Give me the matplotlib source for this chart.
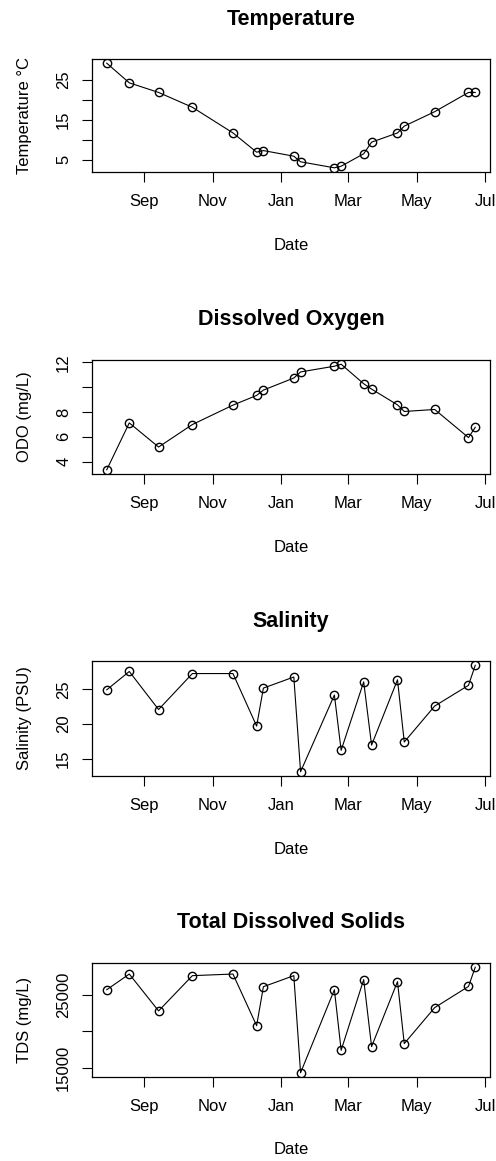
import matplotlib
matplotlib.use("Agg")
import matplotlib.pyplot as plt
import matplotlib.dates as mdates
import numpy as np
import pandas as pd

plt.rcParams['font.family'] = ['Liberation Sans', 'DejaVu Sans']

# sampling dates
dates = ["2018-07-30", "2018-08-19", "2018-09-14", "2018-10-14", "2018-11-19",
         "2018-12-10", "2018-12-16", "2019-01-12", "2019-01-18", "2019-02-17",
         "2019-02-23", "2019-03-15", "2019-03-22", "2019-04-14", "2019-04-20",
         "2019-05-17", "2019-06-16", "2019-06-22"]

temperature = [29.1, 24.2, 21.8, 18.1, 11.7, 6.9, 7.3, 5.9, 4.5, 3.0,
               3.4, 6.5, 9.4, 11.7, 13.4, 17.0, 21.8, 21.8]
odo = [3.35, 7.12, 5.18, 6.99, 8.55, 9.33, 9.76, 10.73, 11.22, 11.68,
       11.84, 10.27, 9.84, 8.57, 8.04, 8.2, 5.94, 6.77]
salinity = [24.95, 27.6, 22.1, 27.3, 27.3, 19.7, 25.2, 26.8, 13.1, 24.2,
            16.2, 26.1, 16.95, 26.4, 17.4, 22.6, 25.6, 28.5]
tds = [25690, 27830, 22800, 27610, 27830, 20780, 26100, 27610, 14360, 25690,
       17430, 27070, 17930, 26790, 18340, 23250, 26140, 28760]

month_ticks = ["2018-09-01", "2018-11-01", "2019-01-01", "2019-03-01",
               "2019-05-01", "2019-07-01"]
month_labels = ["Sep", "Nov", "Jan", "Mar", "May", "Jul"]

panels = [
    ("Temperature", "Temperature °C", temperature, [5, 10, 15, 20, 25], ["5", "", "15", "", "25"]),
    ("Dissolved Oxygen", "ODO (mg/L)", odo, [4, 6, 8, 10, 12], ["4", "6", "8", "", "12"]),
    ("Salinity", "Salinity (PSU)", salinity, [15, 20, 25], ["15", "20", "25"]),
    ("Total Dissolved Solids", "TDS (mg/L)", tds, [15000, 20000, 25000], ["15000", "", "25000"]),
]

# axes box positions in pixels (top, bottom)
W, H = 496, 1161
boxes = [(59, 172), (360, 474), (661, 776), (963, 1077)]
left_px, right_px = 92, 490

x = pd.to_datetime(dates)
xn = mdates.date2num(x)
xpad = 0.04 * (xn.max() - xn.min())

fig = plt.figure(figsize=(W / 100, H / 100), dpi=100)

for (title, ylab, vals, yt, ytl), (top, bot) in zip(panels, boxes):
    ax = fig.add_axes([left_px / W, 1 - bot / H, (right_px - left_px) / W, (bot - top) / H])
    ax.plot(x, vals, color='black', lw=0.8, marker='o', ms=6,
            mfc='none', mec='black', mew=1.0)
    ax.set_xlim(xn.min() - xpad, xn.max() + xpad)
    v = np.array(vals, dtype=float)
    ypad = 0.04 * (v.max() - v.min())
    ax.set_ylim(v.min() - ypad, v.max() + ypad)

    ax.set_xticks(mdates.date2num(pd.to_datetime(month_ticks)))
    ax.set_xticklabels(month_labels)
    ax.set_yticks(yt)
    ax.set_yticklabels(ytl, rotation=90, va='center')
    ax.tick_params(axis='both', direction='out', length=7, width=0.8,
                   labelsize=12, color='black')
    ax.tick_params(axis='x', pad=9)
    ax.tick_params(axis='y', pad=8)
    for s in ax.spines.values():
        s.set_linewidth(0.9)

    ax.set_xlabel("Date", fontsize=12)
    ax.xaxis.set_label_coords(0.5, -73 / (bot - top))
    ax.xaxis.label.set_va('center')
    ax.set_ylabel(ylab, fontsize=12)
    ax.yaxis.set_label_coords(-68 / (right_px - left_px), 0.5)
    ax.yaxis.label.set_va('center')

    ax.annotate(title, xy=(0.5, 1), xycoords='axes fraction',
                xytext=(0, 40 * 0.72), textcoords='offset points',
                ha='center', va='center', fontsize=15.5, fontweight='bold')

plt.savefig("out.png", dpi=100)
